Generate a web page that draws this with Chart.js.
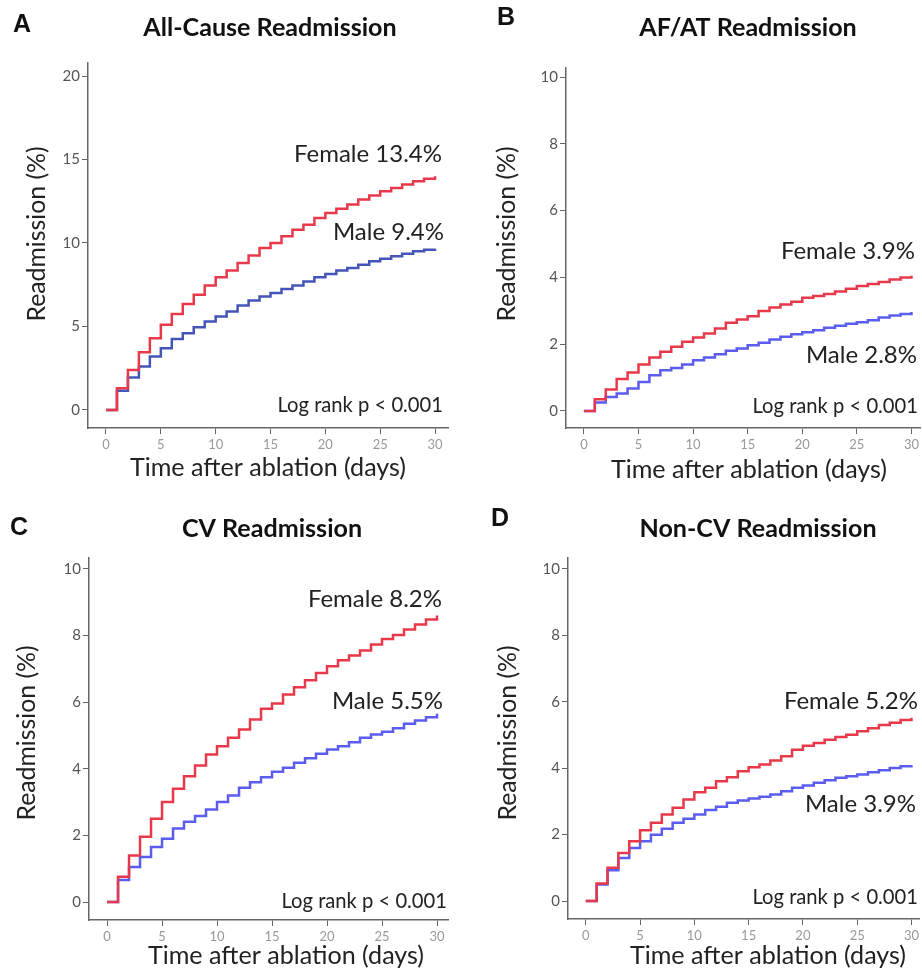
<!DOCTYPE html>
<html>
<head>
<meta charset="utf-8">
<script src="https://cdn.jsdelivr.net/npm/chart.js@4.4.0/dist/chart.umd.min.js"></script>
<style>
  html, body { margin: 0; padding: 0; background: #fff; }
  #page { position: relative; width: 922px; height: 972px; overflow: hidden; }
  .panel { position: absolute; width: 461px; height: 486px; }
</style>
</head>
<body>
<div id="page">
  <div class="panel" style="left:0;top:0"><canvas id="chart-a" width="461" height="486"></canvas></div>
  <div class="panel" style="left:461px;top:0"><canvas id="chart-b" width="461" height="486"></canvas></div>
  <div class="panel" style="left:0;top:486px"><canvas id="chart-c" width="461" height="486"></canvas></div>
  <div class="panel" style="left:461px;top:486px"><canvas id="chart-d" width="461" height="486"></canvas></div>
</div>
<script>
// days after ablation (x values of the step curves)
const days = [0, 1, 2, 3, 4, 5, 6, 7, 8, 9, 10, 11, 12, 13, 14, 15, 16, 17, 18, 19, 20,
              21, 22, 23, 24, 25, 26, 27, 28, 29, 30];
const xTickValues = [0, 5, 10, 15, 20, 25, 30];
const yTicksAllCause = [0, 5, 10, 15, 20];
const yTicksOther = [0, 2, 4, 6, 8, 10];

// cumulative readmission (%), value held from that day until the next one
const femaleAllCause = [0, 1.3, 2.4, 3.45, 4.3, 5.1, 5.75, 6.35, 6.9, 7.45, 7.95, 8.35, 8.8, 9.25, 9.7, 10.0,
                        10.4, 10.8, 11.1, 11.5, 11.8, 12.05, 12.3, 12.6, 12.85, 13.1, 13.3, 13.5, 13.7, 13.85, 14.0];
const maleAllCause = [0, 1.15, 1.95, 2.6, 3.2, 3.7, 4.25, 4.6, 4.95, 5.3, 5.6, 5.9, 6.25, 6.55, 6.8, 7.0,
                      7.25, 7.45, 7.7, 7.95, 8.15, 8.35, 8.5, 8.7, 8.9, 9.05, 9.2, 9.35, 9.5, 9.6, 9.65];
const femaleAfAt = [0, 0.35, 0.64, 0.96, 1.15, 1.39, 1.6, 1.77, 1.92, 2.07, 2.2, 2.32, 2.47, 2.64, 2.74, 2.84,
                    2.99, 3.1, 3.19, 3.27, 3.39, 3.44, 3.5, 3.58, 3.66, 3.74, 3.8, 3.86, 3.94, 4.0, 4.05];
const maleAfAt = [0, 0.25, 0.42, 0.52, 0.67, 0.87, 1.07, 1.22, 1.29, 1.39, 1.52, 1.6, 1.7, 1.8, 1.87, 1.97,
                  2.04, 2.14, 2.22, 2.3, 2.36, 2.42, 2.49, 2.55, 2.61, 2.66, 2.72, 2.8, 2.86, 2.9, 2.96];
const femaleCv = [0, 0.76, 1.4, 1.96, 2.5, 3.0, 3.4, 3.78, 4.1, 4.43, 4.68, 4.93, 5.18, 5.48, 5.8, 5.96,
                  6.23, 6.45, 6.66, 6.88, 7.08, 7.26, 7.4, 7.55, 7.73, 7.9, 8.02, 8.18, 8.33, 8.48, 8.6];
const maleCv = [0, 0.66, 1.05, 1.35, 1.65, 1.9, 2.21, 2.41, 2.58, 2.78, 3.0, 3.2, 3.43, 3.6, 3.75, 3.91,
                4.03, 4.18, 4.32, 4.45, 4.58, 4.68, 4.8, 4.93, 5.03, 5.11, 5.22, 5.35, 5.45, 5.55, 5.65];
const femaleNonCv = [0, 0.53, 1.0, 1.45, 1.8, 2.13, 2.36, 2.61, 2.81, 3.06, 3.28, 3.41, 3.61, 3.73, 3.91, 4.03,
                     4.11, 4.23, 4.36, 4.56, 4.68, 4.76, 4.86, 4.94, 5.01, 5.11, 5.2, 5.3, 5.37, 5.45, 5.52];
const maleNonCv = [0, 0.5, 0.93, 1.3, 1.6, 1.8, 2.0, 2.18, 2.36, 2.48, 2.61, 2.74, 2.84, 2.96, 3.03, 3.09,
                   3.14, 3.21, 3.31, 3.41, 3.48, 3.56, 3.64, 3.71, 3.76, 3.81, 3.88, 3.94, 4.01, 4.06, 4.09];

const panelLetters = ['A', 'B', 'C', 'D'];
const panelTitles = ['All-Cause Readmission', 'AF/AT Readmission', 'CV Readmission', 'Non-CV Readmission'];
const femaleLabels = ['Female 13.4%', 'Female 3.9%', 'Female 8.2%', 'Female 5.2%'];
const maleLabels = ['Male 9.4%', 'Male 2.8%', 'Male 5.5%', 'Male 3.9%'];
const pValueText = 'Log rank p < 0.001';
const xTitle = 'Time after ablation (days)';
const yTitle = 'Readmission (%)';

const FONT = 'Lato, "Open Sans", sans-serif';
const RED = '#e8394a';

// layout of each panel inside its 461x486 canvas
const panels = [
  { id: 'chart-a', female: femaleAllCause, male: maleAllCause, maleColor: '#4454b8', yTicks: yTicksAllCause,
    area: { left: 88, right: 448, top: 63, bottom: 428 }, x: [-1.64, 31.18], y: [-1.08, 20.78],
    letter: [13, 25], title: [270, 28], yt: [37, 234], xt: [268, 468],
    fem: [442, 154], mal: [444, 232], p: [443, 405] },
  { id: 'chart-b', female: femaleAfAt, male: maleAfAt, maleColor: '#5b5cf0', yTicks: yTicksOther,
    area: { left: 105, right: 461, top: 68, bottom: 428 }, x: [-1.64, 30.8], y: [-0.51, 10.27],
    letter: [36, 18], title: [287, 28], yt: [46, 234], xt: [288, 470],
    fem: [454, 251], mal: [456, 355], p: [457, 406] },
  { id: 'chart-c', female: femaleCv, male: maleCv, maleColor: '#5b5cf0', yTicks: yTicksOther,
    area: { left: 89, right: 448, top: 72, bottom: 434 }, x: [-1.64, 31.0], y: [-0.54, 10.33],
    letter: [10, 42], title: [272, 43], yt: [27, 247], xt: [286, 470],
    fem: [442, 113], mal: [443, 215], p: [447, 415] },
  { id: 'chart-d', female: femaleNonCv, male: maleNonCv, maleColor: '#5b5cf0', yTicks: yTicksOther,
    area: { left: 107, right: 461, top: 72, bottom: 433 }, x: [-1.64, 30.7], y: [-0.54, 10.33],
    letter: [30, 33], title: [297, 43], yt: [47, 247], xt: [307, 470],
    fem: [457, 215], mal: [455, 318], p: [457, 411] }
];

// font size that makes a text as wide as in the figure
function fitFont(ctx, text, weight, width) {
  ctx.font = weight + ' 100px ' + FONT;
  const size = 100 * width / ctx.measureText(text).width;
  return weight + ' ' + size.toFixed(1) + 'px ' + FONT;
}

// texts that sit around each plot
const panelText = {
  id: 'panelText',
  afterDraw(chart, args, opts) {
    const ctx = chart.ctx;
    const i = opts.index;
    const p = panels[i];
    const titleFont = fitFont(ctx, panelTitles[0], 'bold', 253);
    const xTitleFont = fitFont(ctx, xTitle, 'normal', 276);
    const yTitleFont = fitFont(ctx, yTitle, 'normal', 175);
    const noteFont = fitFont(ctx, femaleLabels[0], 'normal', 148);
    const pFont = fitFont(ctx, pValueText, 'normal', 166);

    ctx.save();
    ctx.textBaseline = 'middle';
    ctx.fillStyle = '#111';

    ctx.textAlign = 'left';
    ctx.font = 'bold 25px "Liberation Sans", Arial, sans-serif';
    ctx.fillText(panelLetters[i], p.letter[0], p.letter[1]);

    ctx.textAlign = 'center';
    ctx.font = titleFont;
    ctx.fillText(panelTitles[i], p.title[0], p.title[1]);

    ctx.fillStyle = '#222';
    ctx.font = xTitleFont;
    ctx.fillText(xTitle, p.xt[0], p.xt[1]);

    ctx.save();
    ctx.translate(p.yt[0], p.yt[1]);
    ctx.rotate(-Math.PI / 2);
    ctx.font = yTitleFont;
    ctx.fillText(yTitle, 0, 0);
    ctx.restore();

    ctx.textAlign = 'right';
    ctx.font = noteFont;
    ctx.fillText(femaleLabels[i], p.fem[0], p.fem[1]);
    ctx.fillText(maleLabels[i], p.mal[0], p.mal[1]);
    ctx.font = pFont;
    ctx.fillText(pValueText, p.p[0], p.p[1]);
    ctx.restore();
  }
};

function toPoints(values) {
  return days.map((d, k) => ({ x: d, y: values[k] }));
}

panels.forEach((p, i) => {
  new Chart(document.getElementById(p.id), {
    type: 'line',
    data: {
      datasets: [
        { label: 'Female', data: toPoints(p.female), borderColor: RED, borderWidth: 2.5, stepped: true, pointRadius: 0 },
        { label: 'Male', data: toPoints(p.male), borderColor: p.maleColor, borderWidth: 2.5, stepped: true, pointRadius: 0 }
      ]
    },
    options: {
      responsive: false,
      animation: false,
      events: [],
      layout: { padding: { left: 0, top: p.area.top, right: 461 - p.area.right, bottom: 0 } },
      plugins: {
        legend: { display: false },
        tooltip: { enabled: false },
        panelText: { index: i }
      },
      scales: {
        x: {
          type: 'linear',
          min: p.x[0],
          max: p.x[1],
          afterBuildTicks: s => { s.ticks = xTickValues.map(v => ({ value: v })); },
          afterFit: s => { s.height = 486 - p.area.bottom; },
          grid: { drawOnChartArea: false, drawTicks: true, tickLength: 6, color: '#666' },
          border: { color: '#666', width: 1.5 },
          ticks: { color: '#999', padding: 3, font: { family: FONT, size: 13 } }
        },
        y: {
          min: p.y[0],
          max: p.y[1],
          afterBuildTicks: s => { s.ticks = p.yTicks.map(v => ({ value: v })); },
          afterFit: s => { s.width = p.area.left; },
          grid: { drawOnChartArea: false, drawTicks: true, tickLength: 6, color: '#666' },
          border: { color: '#666', width: 1.5 },
          ticks: { color: '#555', padding: 2, font: { family: FONT, size: 15 } }
        }
      }
    },
    plugins: [panelText]
  });
});
</script>
</body>
</html>
